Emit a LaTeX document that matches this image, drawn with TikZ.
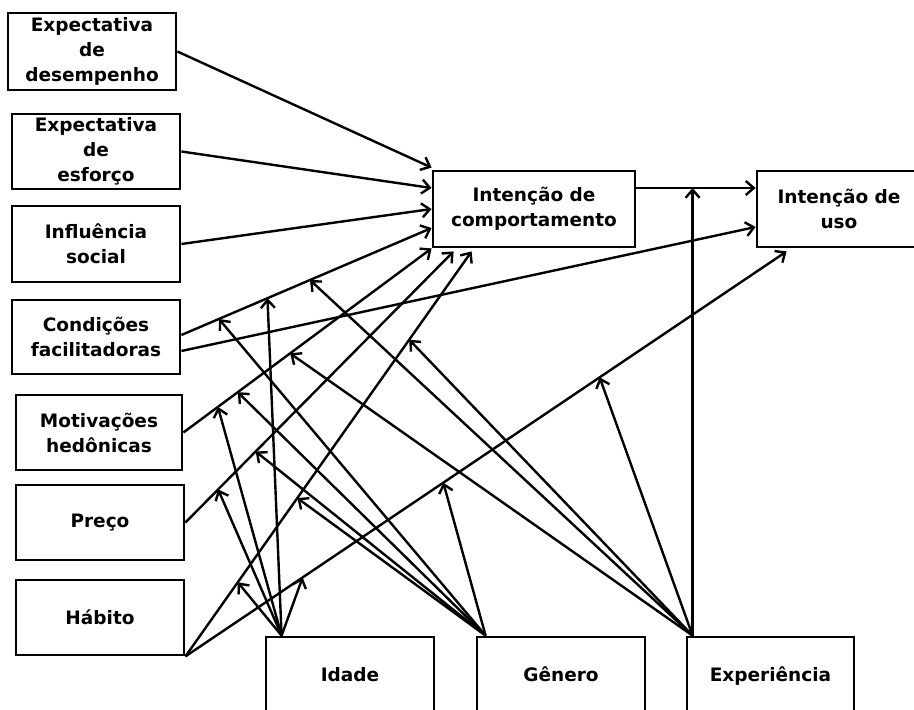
\documentclass[tikz,border=0pt]{standalone}
\usepackage{fontspec}
\setmainfont{DejaVu Sans}
\usetikzlibrary{arrows.meta}
\begin{document}
\begin{tikzpicture}[x=1pt,y=-1pt,
  box/.style={draw, line width=2.8pt, align=center, inner sep=2pt,
    font=\bfseries\fontsize{18.5}{25}\selectfont,
    minimum width=168pt, minimum height=76pt},
  conn/.style={line width=2.4pt, -{Straight Barb[length=8pt,width=14pt]}}]
\useasboundingbox (0,0) rectangle (914,710);
\clip (0,0) rectangle (914,710);
% predictors
\node[box, minimum height=77pt] (pe) at (92,51.5) {Expectativa\\de\\desempenho};
\node[box, minimum height=75pt] (ee) at (96,151.5) {Expectativa\\de\\esforço};
\node[box] (si) at (96,244) {Influência\\social};
\node[box, minimum height=74pt] (fc) at (96,337) {Condições\\facilitadoras};
\node[box, minimum width=166pt, minimum height=75pt] (hm) at (99,432.5) {Motivações\\hedônicas};
\node[box, minimum height=75pt] (pv) at (100,522.5) {Preço};
\node[box, minimum height=75pt] (ht) at (100,617.5) {Hábito};
% outcomes
\node[box, minimum width=202pt] (bi) at (534,209) {Intenção de\\comportamento};
\node[box, minimum width=164pt] (iu) at (839,209) {Intenção de\\uso};
% moderators
\node[box] (id) at (350,675) {\vphantom{Êp}Idade};
\node[box] (ge) at (561,675) {\vphantom{Êp}Gênero};
\node[box, minimum width=167pt] (ex) at (770.5,675) {\vphantom{Êp}Experiência};
% moderator apexes
\coordinate (idT) at ([xshift=17pt]id.north west);
\coordinate (geT) at ([xshift=10pt]ge.north west);
\coordinate (exT) at ([xshift=7pt]ex.north west);
% main paths
\draw[conn] (pe.east) -- ([yshift=2pt]bi.north west);
\draw[conn] (ee.east) -- ([yshift=21pt]bi.west);
\draw[conn] (si.east) -- (bi.west);
\draw[conn] ([yshift=2pt]fc.east) --
  coordinate[pos=0.150] (fcA) coordinate[pos=0.344] (fcB) coordinate[pos=0.514] (fcC)
  ([yshift=-19pt]bi.west);
\draw[conn] ([yshift=-14pt]fc.east) -- ([yshift=-18pt]iu.west);
\draw[conn] (hm.east) --
  coordinate[pos=0.139] (hmA) coordinate[pos=0.219] (hmB) coordinate[pos=0.430] (hmC)
  (bi.south west);
\draw[conn] (pv.east) --
  coordinate[pos=0.122] (pvA) coordinate[pos=0.262] (pvB)
  ([xshift=22pt,yshift=-3pt]bi.south west);
\draw[conn] (ht.south east) --
  coordinate[pos=0.183] (htA) coordinate[pos=0.391] (htB) coordinate[pos=0.782] (htC)
  ([xshift=40pt,yshift=-3pt]bi.south west);
\draw[conn] (ht.south east) --
  coordinate[pos=0.195] (huA) coordinate[pos=0.429] (huB) coordinate[pos=0.689] (huC)
  ([xshift=31pt,yshift=-3pt]iu.south west);
\draw[conn] ([yshift=21pt]bi.east) -- coordinate[pos=0.484] (biU) ([yshift=21pt]iu.west);
% Idade
\draw[conn] (idT) -- (fcB);
\draw[conn] (idT) -- (hmA);
\draw[conn] (idT) -- (pvA);
\draw[conn] (idT) -- (htA);
\draw[conn] (idT) -- (huA);
% Genero
\draw[conn] (geT) -- (fcA);
\draw[conn] (geT) -- (hmB);
\draw[conn] (geT) -- (pvB);
\draw[conn] (geT) -- (htB);
\draw[conn] (geT) -- (huB);
% Experiencia
\draw[conn] (exT) -- (fcC);
\draw[conn] (exT) -- (hmC);
\draw[conn] (exT) -- (htC);
\draw[conn] (exT) -- (huC);
\draw[conn] (exT) -- (exT |- biU);
\end{tikzpicture}
\end{document}
